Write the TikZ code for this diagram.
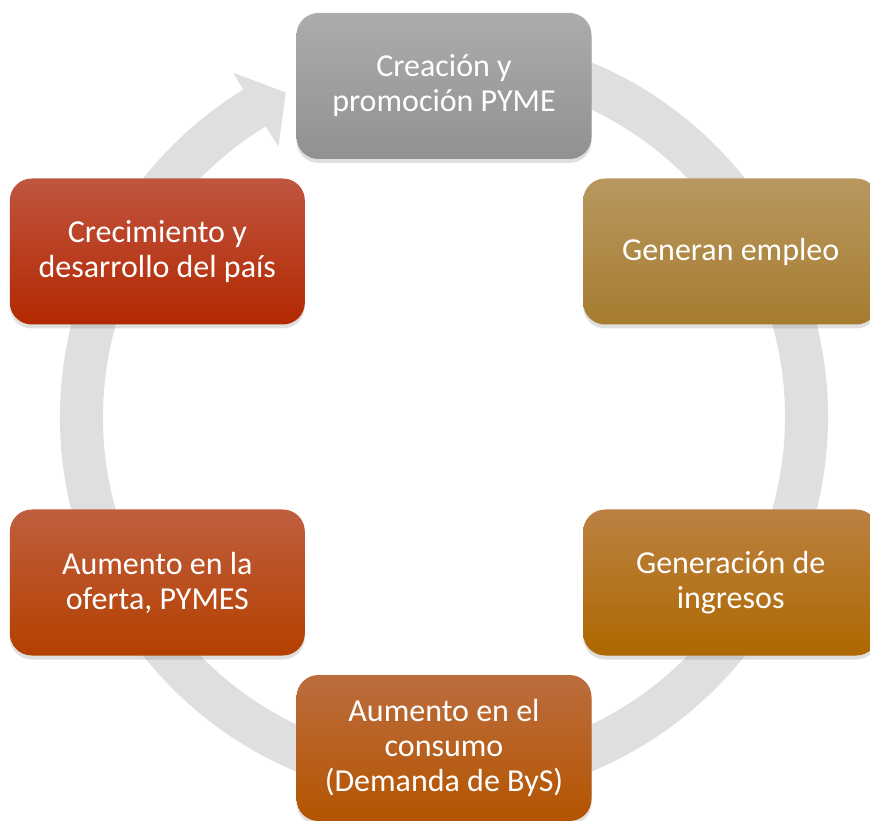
\documentclass[tikz,border=0pt]{standalone}
\usepackage{fontspec}
\setmainfont{Carlito}
\usetikzlibrary{shadows}

\definecolor{anillo}{RGB}{223,223,223}
\definecolor{grisA}{RGB}{172,172,172}
\definecolor{grisB}{RGB}{145,145,145}
\definecolor{oroA}{RGB}{185,151,95}
\definecolor{oroB}{RGB}{165,124,47}
\definecolor{ingA}{RGB}{187,129,66}
\definecolor{ingB}{RGB}{174,104,0}
\definecolor{conA}{RGB}{187,109,62}
\definecolor{conB}{RGB}{180,84,0}
\definecolor{ofeA}{RGB}{192,94,62}
\definecolor{ofeB}{RGB}{180,64,0}
\definecolor{creA}{RGB}{192,85,64}
\definecolor{creB}{RGB}{178,40,0}

\begin{document}
\begin{tikzpicture}[x=1pt, y=1pt,
    caja/.style={rounded corners=22pt, minimum width=295pt, minimum height=146pt,
      align=center, text=white, font=\fontsize{32}{35}\selectfont,
      drop shadow={opacity=0.25, shadow xshift=0pt, shadow yshift=-4pt}}]
  \useasboundingbox (0,0) rectangle (870,820);
  \coordinate (c) at (444,403);

  % flecha circular
  \fill[anillo] ([shift={(80:384)}]c) arc[start angle=80, end angle=-238.5, radius=384]
    -- ([shift={(-238.5:404)}]c) -- ([shift={(-244:361)}]c) -- ([shift={(-238.5:317)}]c)
    -- ([shift={(-238.5:341)}]c) arc[start angle=-238.5, end angle=80, radius=341] -- cycle;

  \node[caja, top color=grisA, bottom color=grisB] (crea) at ([shift={(90:331)}]c) {Creación y\\promoción PYME};
  \node[caja, top color=oroA, bottom color=oroB] (empleo) at ([shift={(30:331)}]c) {Generan empleo};
  \node[caja, top color=ingA, bottom color=ingB] (ingresos) at ([shift={(-30:331)}]c) {Generación de\\ingresos};
  \node[caja, top color=conA, bottom color=conB] (consumo) at ([shift={(-90:331)}]c) {Aumento en el\\consumo\\(Demanda de ByS)};
  \node[caja, top color=ofeA, bottom color=ofeB] (oferta) at ([shift={(-150:331)}]c) {Aumento en la\\oferta, PYMES};
  \node[caja, top color=creA, bottom color=creB] (pais) at ([shift={(150:331)}]c) {Crecimiento y\\desarrollo del país};
\end{tikzpicture}
\end{document}
